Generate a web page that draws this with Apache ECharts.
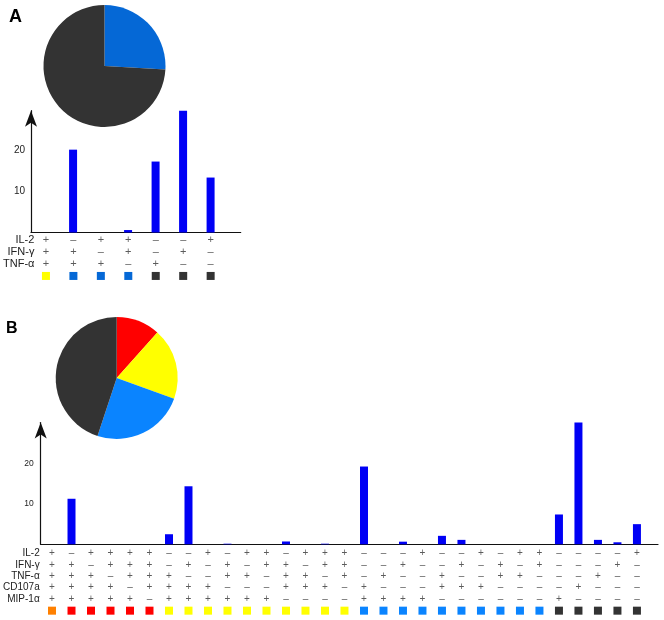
<!DOCTYPE html>
<html>
<head>
<meta charset="utf-8">
<script src="https://cdn.jsdelivr.net/npm/echarts@6/dist/echarts.min.js"></script>
<style>
    html, body {margin: 0; padding: 0; background: #fff;}
    #chart {width: 664px; height: 620px;}
</style>
</head>
<body>
<div id="chart"></div>
<script>
// ---- panel A data ----
var aValues = [0, 20.2, 0, 0.6, 17.3, 29.7, 13.4];
var aIL2  = ['+', '-', '+', '+', '-', '-', '+'];
var aIFNg = ['+', '+', '-', '+', '-', '+', '-'];
var aTNFa = ['+', '+', '+', '-', '+', '-', '-'];
var aGroup = ['yellow', 'blue', 'blue', 'blue', 'dark', 'dark', 'dark'];
var aPieNames = ['yellow', 'blue', 'dark'];
var aPieValues = [0, 25.9, 74.1];
var aRowNames = ['IL-2', 'IFN-γ', 'TNF-α'];

// ---- panel B data ----
var bValues = [0, 11.3, 0, 0, 0, 0, 2.5, 14.4, 0, 0.15, 0, 0, 0.7, 0, 0.15, 0,
               19.3, 0, 0.65, 0, 2.1, 1.1, 0, 0, 0, 0, 7.4, 30.2, 1.1, 0.5, 5.0];
var bIL2    = ['+','-','+','+','+','+','-','-','+','-','+','+','-','+','+','+','-','-','-','+','-','-','+','-','+','+','-','-','-','-','+'];
var bIFNg   = ['+','+','-','+','+','+','-','+','-','+','-','+','+','-','+','+','-','-','+','-','-','+','-','+','-','+','-','-','-','+','-'];
var bTNFa   = ['+','+','+','-','+','+','+','-','-','+','+','-','+','+','-','+','-','+','-','-','+','-','-','+','+','-','-','-','+','-','-'];
var bCD107a = ['+','+','+','+','-','+','+','+','+','-','-','-','+','+','+','-','+','-','-','-','+','+','+','-','-','-','-','+','-','-','-'];
var bMIP1a  = ['+','+','+','+','+','-','+','+','+','+','+','+','-','-','-','-','+','+','+','+','-','-','-','-','-','-','+','-','-','-','-'];
var bGroup = ['orange', 'red', 'red', 'red', 'red', 'red',
              'yellow', 'yellow', 'yellow', 'yellow', 'yellow', 'yellow', 'yellow', 'yellow', 'yellow', 'yellow',
              'blue', 'blue', 'blue', 'blue', 'blue', 'blue', 'blue', 'blue', 'blue', 'blue',
              'dark', 'dark', 'dark', 'dark', 'dark'];
var bPieNames = ['orange', 'red', 'yellow', 'blue', 'dark'];
var bPieValues = [0, 11.6, 18.9, 24.6, 44.9];
var bRowNames = ['IL-2', 'IFN-γ', 'TNF-α', 'CD107a', 'MIP-1α'];

var yTicks = [10, 20];

var colorsA = {yellow: '#ffff00', blue: '#0568d6', dark: '#333333'};
var colorsB = {orange: '#ff8000', red: '#ff0000', yellow: '#ffff00', blue: '#0a84ff', dark: '#333333'};
var barColor = '#0000f5';
var font = 'Liberation Sans, Arial, sans-serif';

// +/- table points: [column, row index, sign]
function signPoints(rows) {
    var pts = [];
    rows.forEach(function (r, ri) {
        r.forEach(function (s, i) {
            pts.push([i, ri, s === '+' ? '+' : '–']);
        });
    });
    return pts;
}
function squarePoints(group, row) {
    return group.map(function (g, i) { return [i, row, g]; });
}
function pieData(names, values, colors) {
    return names.map(function (n, i) {
        return {name: n, value: values[i], itemStyle: {color: colors[n]}};
    });
}

function valueYAxis(grid, max, size, margin) {
    return {
        gridIndex: grid, type: 'value', min: 0, max: max, interval: 10,
        axisLine: {show: true, onZero: false, symbol: ['none', 'arrow'], symbolSize: [9, 16],
            lineStyle: {color: '#111', width: 1.2}},
        axisTick: {show: false},
        splitLine: {show: false},
        axisLabel: {
            fontSize: size, color: '#222', fontFamily: font, margin: margin,
            formatter: function (v) { return yTicks.indexOf(v) >= 0 ? v : ''; }
        }
    };
}
function tableYAxis(grid, names, size, margin) {
    return {
        gridIndex: grid, type: 'category', inverse: true, data: names.concat(['']),
        axisLine: {show: false}, axisTick: {show: false}, splitLine: {show: false},
        axisLabel: {interval: 0, fontSize: size, color: '#222', fontFamily: font, margin: margin}
    };
}
function barXAxis(grid, min, max) {
    return {
        gridIndex: grid, type: 'value', min: min, max: max,
        axisLine: {show: true, lineStyle: {color: '#111', width: 1.2}},
        axisTick: {show: false}, axisLabel: {show: false}, splitLine: {show: false}
    };
}
function tableXAxis(grid, min, max) {
    return {gridIndex: grid, type: 'value', min: min, max: max, show: false, splitLine: {show: false}};
}
function signSeries(x, y, pts, size) {
    return {
        type: 'scatter', xAxisIndex: x, yAxisIndex: y, data: pts, symbolSize: 1,
        itemStyle: {color: 'rgba(0,0,0,0)'},
        label: {show: true, position: 'inside', fontSize: size, color: '#333', fontFamily: font,
            formatter: function (p) { return p.value[2]; }}
    };
}
function squareSeries(x, y, pts, colors) {
    return {
        type: 'scatter', xAxisIndex: x, yAxisIndex: y, data: pts, symbol: 'rect', symbolSize: 8,
        itemStyle: {opacity: 1, color: function (p) { return colors[p.value[2]]; }}
    };
}

var option = {
    animation: false,
    title: [
        {text: 'A', left: 9, top: 8, padding: 0, textStyle: {fontSize: 18, fontWeight: 'bold', color: '#000', fontFamily: font}},
        {text: 'B', left: 6, top: 321, padding: 0, textStyle: {fontSize: 16, fontWeight: 'bold', color: '#000', fontFamily: font}}
    ],
    grid: [
        {left: 31, top: 110.7, width: 209.7, height: 121.8},
        {left: 31, top: 233.6, width: 209.7, height: 48.4},
        {left: 40.7, top: 422.6, width: 617.3, height: 121.7},
        {left: 40.7, top: 547.6, width: 617.3, height: 68.8}
    ],
    xAxis: [
        barXAxis(0, -0.53, 7.095),
        tableXAxis(1, -0.53, 7.095),
        barXAxis(2, -0.58, 31.08),
        tableXAxis(3, -0.58, 31.08)
    ],
    yAxis: [
        valueYAxis(0, 29.7, 10, 6),
        tableYAxis(1, aRowNames, 11, -3),
        valueYAxis(2, 30.2, 8.5, 7),
        tableYAxis(3, bRowNames, 10, 1)
    ],
    series: [
        {type: 'bar', xAxisIndex: 0, yAxisIndex: 0, barWidth: 8, itemStyle: {color: barColor},
            data: aValues.map(function (v, i) { return [i, v]; })},
        signSeries(1, 1, signPoints([aIL2, aIFNg, aTNFa]), 11),
        squareSeries(1, 1, squarePoints(aGroup, 3), colorsA),
        {type: 'bar', xAxisIndex: 2, yAxisIndex: 2, barWidth: 8, itemStyle: {color: barColor},
            data: bValues.map(function (v, i) { return [i, v]; })},
        signSeries(3, 3, signPoints([bIL2, bIFNg, bTNFa, bCD107a, bMIP1a]), 10),
        squareSeries(3, 3, squarePoints(bGroup, 5), colorsB),
        {type: 'pie', center: [104.5, 66], radius: 61, startAngle: 90, clockwise: true,
            label: {show: false}, labelLine: {show: false}, silent: true,
            itemStyle: {borderWidth: 0},
            data: pieData(aPieNames, aPieValues, colorsA)},
        {type: 'pie', center: [116.7, 378], radius: 61, startAngle: 90, clockwise: true,
            label: {show: false}, labelLine: {show: false}, silent: true,
            itemStyle: {borderWidth: 0},
            data: pieData(bPieNames, bPieValues, colorsB)}
    ]
};

var myChart = echarts.init(document.getElementById('chart'));
myChart.setOption(option);
</script>
</body>
</html>
